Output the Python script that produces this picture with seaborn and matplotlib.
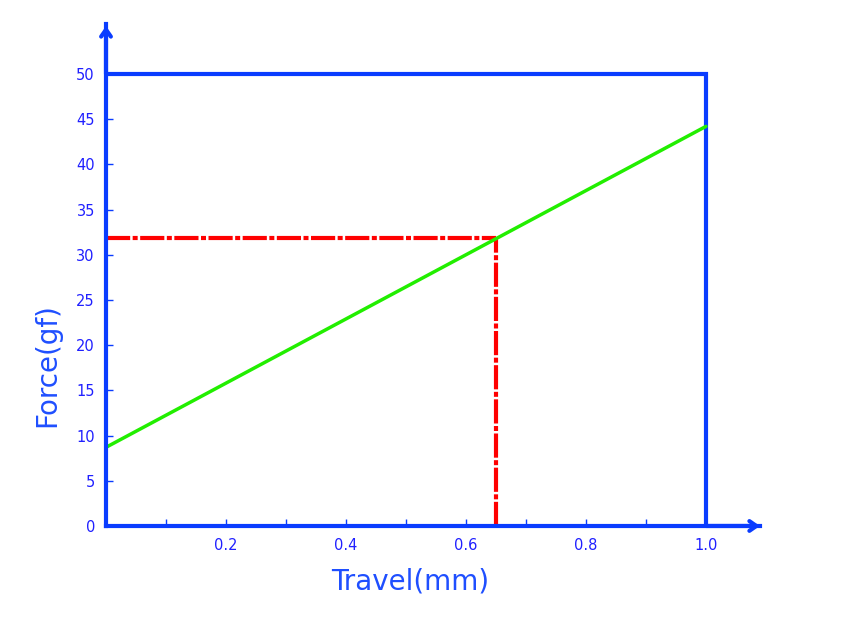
import numpy as np
import pandas as pd
import matplotlib
matplotlib.use('Agg')
import matplotlib.pyplot as plt
import seaborn as sns

# --- DATOS ---
travel = [0.0, 1.0]
force = [8.7, 44.2]
point_travel = 0.65
point_force = 31.8
box_travel = 1.0
box_force = 50
y_ticks = list(range(0, 55, 5))
x_ticks = [0.1, 0.2, 0.3, 0.4, 0.5, 0.6, 0.7, 0.8, 0.9, 1.0]
x_tick_labels = ['', '0.2', '', '0.4', '', '0.6', '', '0.8', '', '1.0']

axis_color = '#0a3cff'
text_color = '#1f4fff'
tick_color = '#2020ff'

sns.set_style('white')
plt.rcParams['font.family'] = ['DejaVu Sans']

df = pd.DataFrame({'Travel': travel, 'Force': force})

fig = plt.figure(figsize=(8.46, 6.29), dpi=100)
ax = fig.add_axes([0.1253, 0.1638, 0.773, 0.7977])
ax.set_xlim(0, 1.09)
ax.set_ylim(0, 55.5)

# caja superior/derecha
ax.plot([0, box_travel, box_travel], [box_force, box_force, 0],
        color=axis_color, lw=3, solid_joinstyle='miter', zorder=3)

# lineas de referencia (punto-raya)
red_dashes = (5.8, 0.6, 1.2, 0.6)
ax.plot([0, point_travel], [point_force, point_force], color='#ff0000', lw=3,
        dashes=red_dashes, zorder=2)
ax.plot([point_travel, point_travel], [0, point_force], color='#ff0000', lw=3,
        dashes=red_dashes, zorder=2)

sns.lineplot(data=df, x='Travel', y='Force', color='#22ee00', lw=2.5, ax=ax, zorder=4)

# ejes con flechas
for s in ['top', 'right']:
    ax.spines[s].set_visible(False)
for s in ['left', 'bottom']:
    ax.spines[s].set_color(axis_color)
    ax.spines[s].set_linewidth(3)
    ax.spines[s].set_zorder(5)

arrow_style = dict(arrowstyle='->, head_length=0.5, head_width=0.35',
                   lw=3, color=axis_color, shrinkA=0, shrinkB=0)
ax.annotate('', xy=(1.09, 0), xytext=(1.0, 0), xycoords='data',
            arrowprops=arrow_style, annotation_clip=False, zorder=6)
ax.annotate('', xy=(0, 55.3), xytext=(0, 50), xycoords='data',
            arrowprops=arrow_style, annotation_clip=False, zorder=6)

ax.set_yticks(y_ticks)
ax.set_xticks(x_ticks)
ax.set_xticklabels(x_tick_labels)
ax.tick_params(axis='both', direction='in', length=5, width=1, colors=axis_color,
               labelcolor=tick_color, labelsize=10.5, left=True, bottom=True)
ax.tick_params(axis='x', pad=9)
ax.tick_params(axis='y', pad=8)

ax.set_xlabel('Travel(mm)', fontsize=20, color=text_color)
ax.set_ylabel('Force(gf)', fontsize=20, color=text_color)
ax.xaxis.set_label_coords(0.465, -0.082)
ax.yaxis.set_label_coords(-0.068, 0.32)

fig.savefig('out.png', dpi=100)
